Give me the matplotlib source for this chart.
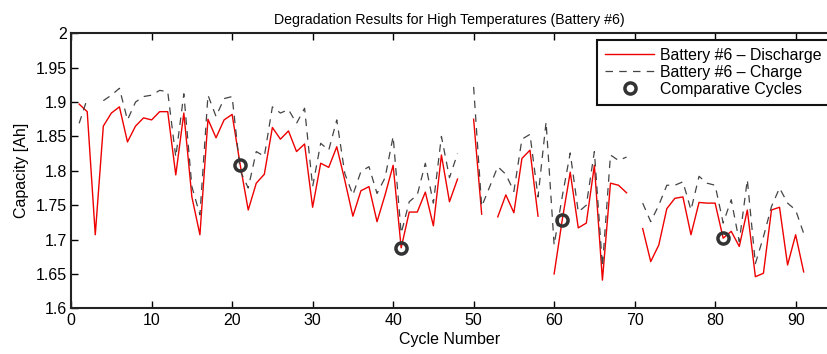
import numpy as np
import matplotlib
matplotlib.use("Agg")
import matplotlib.pyplot as plt

nan = np.nan
ciclos = np.arange(1, 92)
descarga = [1.897, 1.886, 1.707, 1.865, 1.884, 1.893, 1.842, 1.865, 1.877, 1.874,
            1.886, 1.886, 1.794, 1.884, 1.762, 1.707, 1.875, 1.848, 1.874, 1.882,
            1.809, 1.743, 1.782, 1.795, 1.863, 1.846, 1.858, 1.828, 1.839, 1.747,
            1.811, 1.805, 1.835, 1.786, 1.734, 1.771, 1.777, 1.726, 1.765, 1.808,
            1.688, 1.740, 1.740, 1.769, 1.720, 1.823, 1.755, 1.788, nan, 1.875,
            1.737, nan, 1.733, 1.765, 1.739, 1.818, 1.830, 1.734, nan, 1.650,
            1.728, 1.798, 1.717, 1.724, 1.808, 1.641, 1.782, 1.779, 1.768, nan,
            1.716, 1.668, 1.692, 1.745, 1.760, 1.762, 1.707, 1.754, 1.753, 1.753,
            1.702, 1.712, 1.690, 1.743, 1.646, 1.651, 1.743, 1.747, 1.663, 1.707,
            1.653]
carga = [1.869, 1.905, nan, 1.902, 1.910, 1.920, 1.874, 1.900, 1.908, 1.910,
         1.917, 1.915, 1.820, 1.912, 1.777, 1.736, 1.910, 1.879, 1.905, 1.908,
         1.800, 1.775, 1.828, 1.821, 1.893, 1.884, 1.889, 1.869, 1.891, 1.777,
         1.840, 1.830, 1.874, 1.796, 1.765, 1.799, 1.806, 1.767, 1.790, 1.850,
         1.709, 1.755, 1.765, 1.811, 1.753, 1.850, 1.790, 1.825, nan, 1.922,
         1.748, 1.777, 1.806, 1.795, 1.770, 1.846, 1.853, 1.762, 1.871, 1.692,
         1.762, 1.826, 1.740, 1.750, 1.828, 1.661, 1.823, 1.815, 1.820, nan,
         1.753, 1.726, 1.750, 1.779, 1.779, 1.784, 1.743, 1.792, 1.782, 1.779,
         1.724, 1.758, 1.697, 1.787, 1.665, 1.704, 1.748, 1.775, 1.753, 1.743,
         1.709]
comparativos = [21, 41, 61, 81]
etiquetas_y = ["1.6", "1.65", "1.7", "1.75", "1.8", "1.85", "1.9", "1.95", "2"]

plt.rcParams["font.family"] = ["Liberation Sans", "DejaVu Sans"]
fig = plt.figure(figsize=(8.27, 3.54), dpi=100)
ax = fig.add_axes([0.086, 0.129, 0.915, 0.777])

ax.plot(ciclos, descarga, color="#ee0000", lw=1.0, label="Battery #6 – Discharge")
ax.plot(ciclos, carga, color="#444444", lw=0.9, dashes=(6, 5), label="Battery #6 – Charge")
d = np.array(descarga)
ax.plot(comparativos, d[np.array(comparativos) - 1], "o", ms=8, mfc="none", mec="#333333",
        mew=2.5, label="Comparative Cycles")

ax.set_xlim(0, 94)
ax.set_ylim(1.6, 2.0)
ax.set_xticks(np.arange(0, 91, 10))
ax.set_yticks(np.arange(1.6, 2.001, 0.05))
ax.set_yticklabels(etiquetas_y)
ax.tick_params(direction="in", top=True, right=False, length=5, width=1, labelsize=11.5, pad=3)
for s in ax.spines.values():
    s.set_linewidth(1.5)
    s.set_color("#222222")
ax.spines["right"].set_visible(False)
ax.set_xlabel("Cycle Number", fontsize=11.5, labelpad=3)
ax.set_ylabel("Capacity [Ah]", fontsize=11.5, labelpad=5)
ax.set_title("Degradation Results for High Temperatures (Battery #6)", fontsize=10.2, pad=7)

leg = ax.legend(loc="upper left", bbox_to_anchor=(0.6954, 0.9756), fontsize=11.4, fancybox=False,
                framealpha=1, edgecolor="#111111", borderpad=0.5, labelspacing=0.12,
                handlelength=3.1, handletextpad=0.38, borderaxespad=0)
leg.get_frame().set_linewidth(1.5)

fig.savefig("out.png", dpi=100)
